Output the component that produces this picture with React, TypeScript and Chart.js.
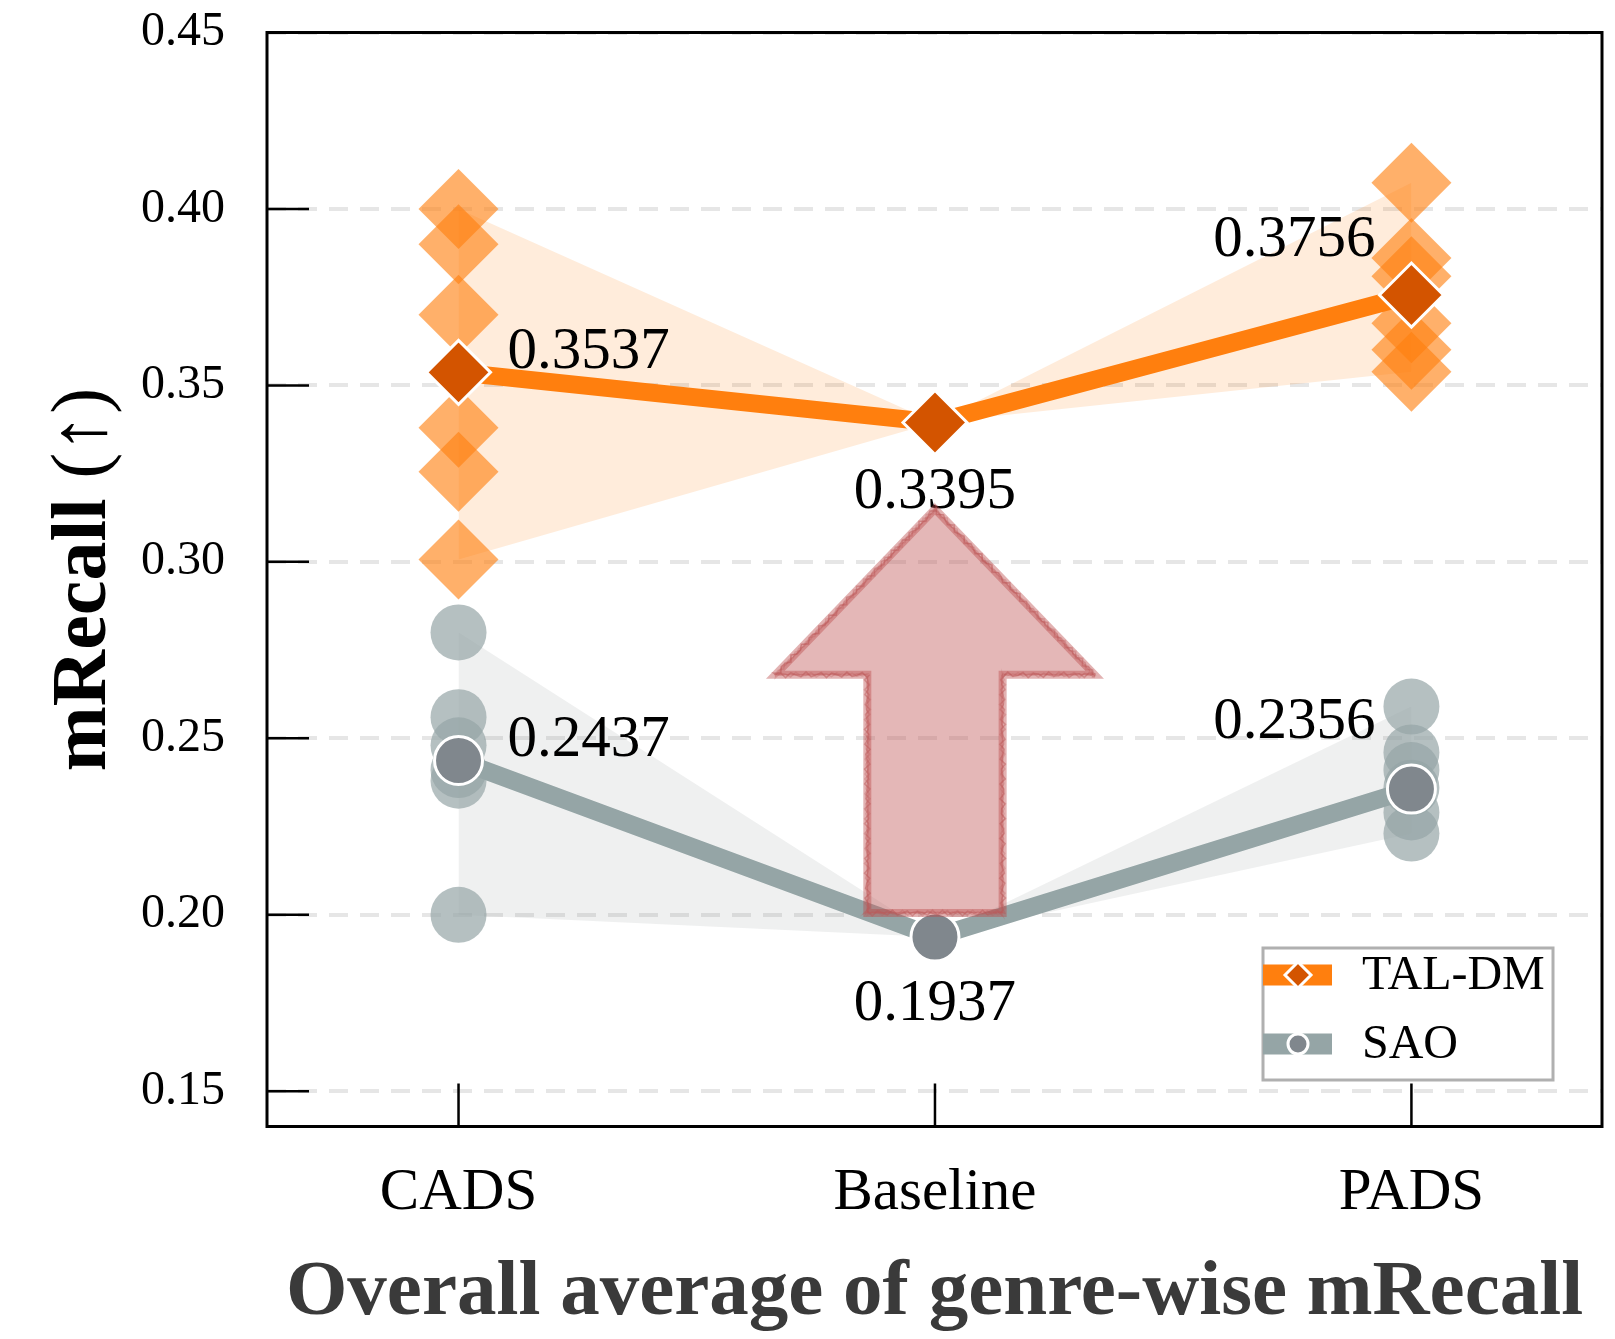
import React, { useEffect, useRef } from "react";
import { Chart, registerables } from "chart.js";

Chart.register(...registerables);

// ---- data ----
const categories = ["CADS", "Baseline", "PADS"];
const categoryX = [0, 1, 2];
const yTicks = [0.15, 0.2, 0.25, 0.3, 0.35, 0.4, 0.45];

// overall mean mRecall per setting
const talDmMean = [0.3537, 0.3395, 0.3756];
const saoMean = [0.2437, 0.1937, 0.2356];

// genre-wise mRecall (Baseline only has its overall value)
const talDmCads = [0.4, 0.39, 0.37, 0.338, 0.3255, 0.3007];
const talDmPads = [0.4074, 0.3861, 0.3809, 0.3676, 0.3601, 0.3539];
const saoCads = [0.28, 0.256, 0.248, 0.241, 0.238, 0.2];
const saoPads = [0.259, 0.246, 0.241, 0.236, 0.229, 0.223];

// ---- styling ----
const FONT = "'Liberation Serif', 'Times New Roman', serif";
const ORANGE = "#ff7f0e";
const ORANGE_DARK = "#d35400";
const GREY = "#95a5a6";
const GREY_DARK = "#80878d";

// value label placement per category (pixels from the mean marker)
const labelAlign: CanvasTextAlign[] = ["left", "center", "right"];
const labelDx = [49, 0, -36];
const talLabelDy = [-20, 70, -55];
const saoLabelDy = [-20, 68, -67];

// upward arrow over Baseline (data units)
const arrowSpec = { x: 1, from: 0.2005, to: 0.315, headBase: 0.268, shaftHalf: 0.142, headHalf: 0.335 };

const pts = (xs: number[], ys: number[]) => ys.map((y, i) => ({ x: xs[i], y }));
const column = (x: number, vals: number[]) => vals.map((y) => ({ x, y }));

const talUpper = [Math.max(...talDmCads), talDmMean[1], Math.max(...talDmPads)];
const talLower = [Math.min(...talDmCads), talDmMean[1], Math.min(...talDmPads)];
const saoUpper = [Math.max(...saoCads), saoMean[1], Math.max(...saoPads)];
const saoLower = [Math.min(...saoCads), saoMean[1], Math.min(...saoPads)];

function roughOutline(ctx: CanvasRenderingContext2D, poly: number[][], amp: number, seed: number) {
  ctx.beginPath();
  let first = true;
  for (let s = 0; s < poly.length; s++) {
    const [x0, y0] = poly[s];
    const [x1, y1] = poly[(s + 1) % poly.length];
    const len = Math.hypot(x1 - x0, y1 - y0);
    const n = Math.max(2, Math.round(len / 5));
    const nx = -(y1 - y0) / len;
    const ny = (x1 - x0) / len;
    for (let k = 0; k <= n; k++) {
      const t = k / n;
      const w = amp * (0.6 * Math.sin((k + seed * 7 + s * 3) * 2.3) + 0.4 * Math.sin((k * 1.7 + seed * 11) * 5.1));
      const px = x0 + (x1 - x0) * t + nx * w;
      const py = y0 + (y1 - y0) * t + ny * w;
      if (first) {
        ctx.moveTo(px, py);
        first = false;
      } else ctx.lineTo(px, py);
    }
  }
  ctx.closePath();
}

function drawArrow(chart: any) {
  const { ctx } = chart;
  const xs = chart.scales.x;
  const ys = chart.scales.y;
  const xc = xs.getPixelForValue(arrowSpec.x);
  const hs = xs.getPixelForValue(arrowSpec.x + arrowSpec.shaftHalf) - xc;
  const hh = xs.getPixelForValue(arrowSpec.x + arrowSpec.headHalf) - xc;
  const yb = ys.getPixelForValue(arrowSpec.from);
  const yh = ys.getPixelForValue(arrowSpec.headBase);
  const yt = ys.getPixelForValue(arrowSpec.to);
  const poly = [
    [xc - hs, yb],
    [xc - hs, yh],
    [xc - hh, yh],
    [xc, yt],
    [xc + hh, yh],
    [xc + hs, yh],
    [xc + hs, yb],
  ];
  ctx.save();
  ctx.lineJoin = "miter";
  ctx.beginPath();
  poly.forEach(([x, y], i) => (i ? ctx.lineTo(x, y) : ctx.moveTo(x, y)));
  ctx.closePath();
  ctx.fillStyle = "rgba(195,95,95,0.45)";
  ctx.fill();
  ctx.strokeStyle = "rgba(185,72,72,0.42)";
  ctx.lineWidth = 8;
  ctx.stroke();
  for (let s = 1; s <= 5; s++) {
    roughOutline(ctx, poly, 3.2, s);
    ctx.strokeStyle = "rgba(190,90,90,0.3)";
    ctx.lineWidth = 1.4;
    ctx.stroke();
  }
  ctx.restore();
}

function drawLegendRow(ctx: CanvasRenderingContext2D, x: number, y: number, color: string, marker: string, fill: string, text: string) {
  ctx.fillStyle = color;
  ctx.fillRect(x, y - 10.5, 69, 21);
  const mx = x + 35;
  ctx.beginPath();
  if (marker === "diamond") {
    const r = 13;
    ctx.moveTo(mx - r, y);
    ctx.lineTo(mx, y - r);
    ctx.lineTo(mx + r, y);
    ctx.lineTo(mx, y + r);
    ctx.closePath();
  } else {
    ctx.arc(mx, y, 10, 0, Math.PI * 2);
  }
  ctx.fillStyle = fill;
  ctx.fill();
  ctx.strokeStyle = "#fff";
  ctx.lineWidth = 3;
  ctx.stroke();
  ctx.fillStyle = "#000";
  ctx.font = `48px ${FONT}`;
  ctx.textAlign = "left";
  ctx.textBaseline = "middle";
  ctx.fillText(text, x + 99, y + 1);
}

const decorPlugin = {
  id: "decor",
  afterDatasetsDraw(chart: any) {
    const { ctx, chartArea: ca } = chart;
    const xs = chart.scales.x;
    const ys = chart.scales.y;

    // mean value labels
    ctx.save();
    ctx.font = `59px ${FONT}`;
    ctx.fillStyle = "#000";
    ctx.textBaseline = "middle";
    const groups: [number[], number[]][] = [
      [talDmMean, talLabelDy],
      [saoMean, saoLabelDy],
    ];
    groups.forEach(([vals, dys]) => {
      vals.forEach((v, i) => {
        ctx.textAlign = labelAlign[i];
        ctx.fillText(v.toFixed(4), xs.getPixelForValue(categoryX[i]) + labelDx[i], ys.getPixelForValue(v) + dys[i]);
      });
    });
    ctx.restore();

    drawArrow(chart);

    // frame and inward tick marks
    ctx.save();
    ctx.strokeStyle = "#000";
    ctx.lineWidth = 3;
    ctx.strokeRect(ca.left, ca.top, ca.right - ca.left, ca.bottom - ca.top);
    ctx.lineWidth = 2.5;
    ctx.beginPath();
    yTicks.forEach((v) => {
      const y = ys.getPixelForValue(v);
      ctx.moveTo(ca.left, y);
      ctx.lineTo(ca.left + 42, y);
    });
    categoryX.forEach((v) => {
      const x = xs.getPixelForValue(v);
      ctx.moveTo(x, ca.bottom);
      ctx.lineTo(x, ca.bottom - 43);
    });
    ctx.stroke();
    ctx.restore();

    // legend
    ctx.save();
    const lw = 290;
    const lh = 132;
    const lx = ca.right - 49 - lw;
    const ly = ca.bottom - 46.5 - lh;
    ctx.fillStyle = "#fff";
    ctx.fillRect(lx, ly, lw, lh);
    ctx.strokeStyle = "#b0b0b0";
    ctx.lineWidth = 3;
    ctx.strokeRect(lx, ly, lw, lh);
    const ds = chart.data.datasets;
    drawLegendRow(ctx, lx, ly + 27, ORANGE, "diamond", ORANGE_DARK, ds[0].label);
    drawLegendRow(ctx, lx, ly + 96, GREY, "circle", GREY_DARK, ds[1].label);
    ctx.restore();

    // y-axis title: bold "mRecall" followed by a regular "(↑)"
    ctx.save();
    const boldFont = `bold 78px ${FONT}`;
    const regFont = `78px ${FONT}`;
    ctx.font = boldFont;
    const w1 = ctx.measureText("mRecall").width;
    ctx.font = regFont;
    const w2 = ctx.measureText(" (↑)").width;
    const cy = (ca.top + ca.bottom) / 2;
    ctx.translate(105, cy);
    ctx.rotate(-Math.PI / 2);
    ctx.textAlign = "left";
    ctx.textBaseline = "alphabetic";
    ctx.fillStyle = "#000";
    const start = -(w1 + w2) / 2;
    ctx.font = boldFont;
    ctx.fillText("mRecall", start, 0);
    ctx.font = regFont;
    ctx.fillText(" (↑)", start + w1, 0);
    ctx.restore();
  },
};

export default function App() {
  const canvasRef = useRef<HTMLCanvasElement | null>(null);

  useEffect(() => {
    const canvas = canvasRef.current;
    if (!canvas) return;
    const chart = new Chart(canvas, {
      type: "line",
      data: {
        datasets: [
          {
            type: "line",
            label: "TAL-DM",
            data: pts(categoryX, talDmMean),
            borderColor: ORANGE,
            borderWidth: 18,
            pointStyle: "rectRot",
            pointRadius: 32,
            pointBackgroundColor: ORANGE_DARK,
            pointBorderColor: "#fff",
            pointBorderWidth: 3,
            fill: false,
            order: 0,
          },
          {
            type: "line",
            label: "SAO",
            data: pts(categoryX, saoMean),
            borderColor: GREY,
            borderWidth: 18,
            pointStyle: "circle",
            pointRadius: 24,
            pointBackgroundColor: GREY_DARK,
            pointBorderColor: "#fff",
            pointBorderWidth: 3,
            fill: false,
            order: 0,
          },
          {
            type: "scatter",
            label: "TAL-DM genres",
            data: [...column(categoryX[0], talDmCads), ...column(categoryX[2], talDmPads)],
            pointStyle: "rectRot",
            pointRadius: 40,
            backgroundColor: "rgba(255,127,14,0.62)",
            borderColor: "rgba(0,0,0,0)",
            borderWidth: 0,
            order: 1,
          },
          {
            type: "scatter",
            label: "SAO genres",
            data: [...column(categoryX[0], saoCads), ...column(categoryX[2], saoPads)],
            pointStyle: "circle",
            pointRadius: 28,
            backgroundColor: "rgba(149,165,166,0.7)",
            borderColor: "rgba(0,0,0,0)",
            borderWidth: 0,
            order: 1,
          },
          {
            type: "line",
            label: "TAL-DM range",
            data: pts(categoryX, talUpper),
            borderColor: "rgba(0,0,0,0)",
            borderWidth: 0,
            pointRadius: 0,
            backgroundColor: "rgba(255,127,14,0.15)",
            fill: "+1",
            order: 2,
          },
          {
            type: "line",
            label: "TAL-DM range low",
            data: pts(categoryX, talLower),
            borderColor: "rgba(0,0,0,0)",
            borderWidth: 0,
            pointRadius: 0,
            fill: false,
            order: 2,
          },
          {
            type: "line",
            label: "SAO range",
            data: pts(categoryX, saoUpper),
            borderColor: "rgba(0,0,0,0)",
            borderWidth: 0,
            pointRadius: 0,
            backgroundColor: "rgba(140,150,150,0.14)",
            fill: "+1",
            order: 2,
          },
          {
            type: "line",
            label: "SAO range low",
            data: pts(categoryX, saoLower),
            borderColor: "rgba(0,0,0,0)",
            borderWidth: 0,
            pointRadius: 0,
            fill: false,
            order: 2,
          },
        ],
      },
      options: {
        responsive: false,
        animation: false,
        devicePixelRatio: 1,
        events: [],
        layout: { autoPadding: false, padding: { left: 0, right: 13, top: 32.5, bottom: 0 } },
        plugins: {
          legend: { display: false },
          tooltip: { enabled: false },
        },
        scales: {
          x: {
            type: "linear",
            min: -0.402,
            max: 2.4,
            afterBuildTicks: (s: any) => {
              s.ticks = categoryX.map((v) => ({ value: v }));
            },
            afterFit: (s: any) => {
              s.height = 212.5;
              s.paddingLeft = 0;
              s.paddingRight = 0;
            },
            ticks: {
              callback: (v: any) => categories[Number(v)] ?? "",
              font: { family: FONT, size: 59 },
              color: "#000",
              padding: 32,
              maxRotation: 0,
              autoSkip: false,
            },
            grid: { display: false, drawTicks: false },
            border: { display: false },
            title: {
              display: true,
              text: "Overall average of genre-wise mRecall",
              font: { family: FONT, size: 79, weight: "bold", lineHeight: 1 },
              color: "#3a3a3a",
              padding: { top: 0, bottom: 6 },
            },
          },
          y: {
            type: "linear",
            min: 0.14,
            max: 0.45,
            afterBuildTicks: (s: any) => {
              s.ticks = yTicks.map((v) => ({ value: v }));
            },
            afterFit: (s: any) => {
              s.width = 267;
              s.paddingTop = 0;
              s.paddingBottom = 0;
            },
            ticks: {
              callback: (v: any) => Number(v).toFixed(2),
              font: { family: FONT, size: 48 },
              color: "#000",
              padding: 42,
            },
            grid: { color: "rgb(230,230,230)", lineWidth: 4, drawTicks: false },
            border: { display: false, dash: [19, 12] },
          },
        },
      },
      plugins: [decorPlugin],
    } as any);
    return () => chart.destroy();
  }, []);

  return (
    <div style={{ position: "absolute", left: 0, top: 0, width: 1615, height: 1339, background: "#fff" }}>
      <canvas ref={canvasRef} width={1615} height={1339} style={{ display: "block" }} />
    </div>
  );
}
